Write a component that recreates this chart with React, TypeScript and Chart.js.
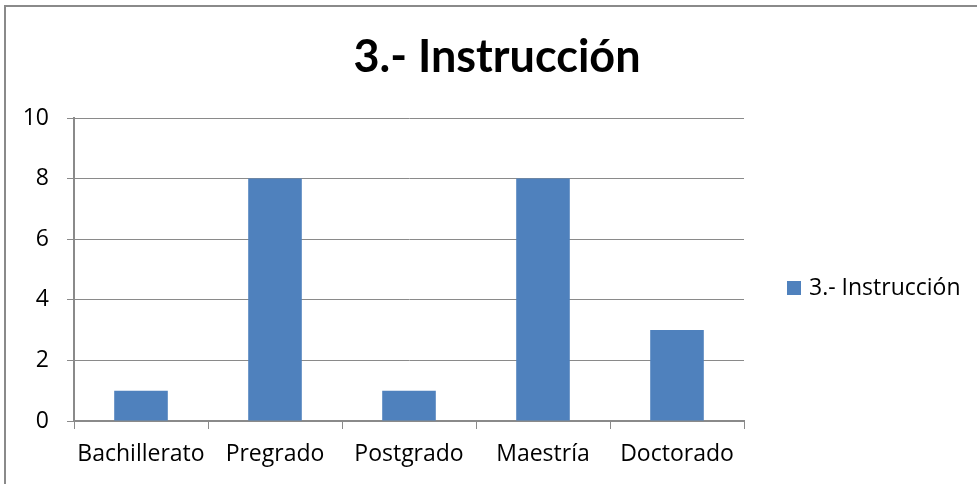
import React, { useEffect, useRef } from "react";
import { Chart, registerables } from "chart.js";

Chart.register(...registerables);

const categories = ["Bachillerato", "Pregrado", "Postgrado", "Maestría", "Doctorado"];
const seriesName = "3.- Instrucción";
const values = [1, 8, 1, 8, 3];
const titleText = "3.- Instrucción";

const TITLE_FONT = "Lato, 'Open Sans', sans-serif";
const FONT = "'Open Sans', 'Noto Sans', sans-serif";
const GRID = "#8a8a8a";
const BAR = "#4F81BD";

const sideLegend = {
  id: "sideLegend",
  afterDraw(chart: any) {
    const { ctx, chartArea } = chart;
    const ds = chart.data.datasets[0];
    const x = chartArea.right + 43;
    const cy = 288;
    ctx.save();
    ctx.fillStyle = ds.backgroundColor;
    ctx.fillRect(x, cy - 7, 14, 14);
    ctx.fillStyle = "#000";
    ctx.font = `23px ${FONT}`;
    ctx.textBaseline = "middle";
    ctx.textAlign = "left";
    ctx.fillText(ds.label, x + 22, cy);
    ctx.restore();
  },
};

export default function App() {
  const ref = useRef<HTMLCanvasElement>(null);
  useEffect(() => {
    if (!ref.current) return;
    const chart = new Chart(ref.current, {
      type: "bar",
      data: {
        labels: categories,
        datasets: [
          {
            label: seriesName,
            data: values,
            backgroundColor: BAR,
            borderWidth: 0,
            categoryPercentage: 1,
            barPercentage: 0.4,
          },
        ],
      },
      options: {
        responsive: false,
        animation: false,
        layout: { padding: { left: 17, right: 0, top: 0, bottom: 0 } },
        plugins: {
          tooltip: { enabled: false },
          legend: { display: false },
          title: {
            display: true,
            text: titleText,
            color: "#000",
            font: { family: TITLE_FONT, size: 45, weight: "bold" },
            padding: { top: 30, bottom: 34 },
          },
        },
        scales: {
          x: {
            grid: {
              offset: true,
              drawOnChartArea: false,
              drawTicks: true,
              tickLength: 8,
              color: GRID,
              lineWidth: 1,
            },
            border: { display: true, color: GRID, width: 2 },
            ticks: {
              color: "#000",
              font: { family: FONT, size: 23 },
              padding: 12,
              maxRotation: 0,
              autoSkip: false,
            },
            afterFit: (s: any) => {
              s.height = 63;
            },
          },
          y: {
            min: 0,
            max: 10,
            ticks: {
              stepSize: 2,
              color: "#000",
              font: { family: FONT, size: 23 },
              padding: 18,
            },
            grid: { color: GRID, lineWidth: 1, tickLength: 7 },
            border: { display: true, color: GRID, width: 2 },
            afterFit: (s: any) => {
              s.width = 57;
            },
          },
          legendSpace: {
            type: "linear",
            position: "right",
            display: true,
            grid: { display: false, drawTicks: false },
            border: { display: false },
            ticks: { display: false },
            afterFit: (s: any) => {
              s.width = 233;
            },
          },
        },
      },
      plugins: [sideLegend],
    });
    return () => chart.destroy();
  }, []);

  return (
    <div style={{ position: "fixed", left: 0, top: 0, width: 977, height: 484, background: "#fff" }}>
      <canvas ref={ref} width={977} height={484} style={{ position: "absolute", left: 0, top: 0 }} />
      <div
        style={{
          position: "absolute",
          left: 4,
          top: 5,
          width: 973,
          height: 479,
          borderTop: `2px solid ${GRID}`,
          borderLeft: `2px solid ${GRID}`,
          boxSizing: "border-box",
          pointerEvents: "none",
        }}
      />
    </div>
  );
}
